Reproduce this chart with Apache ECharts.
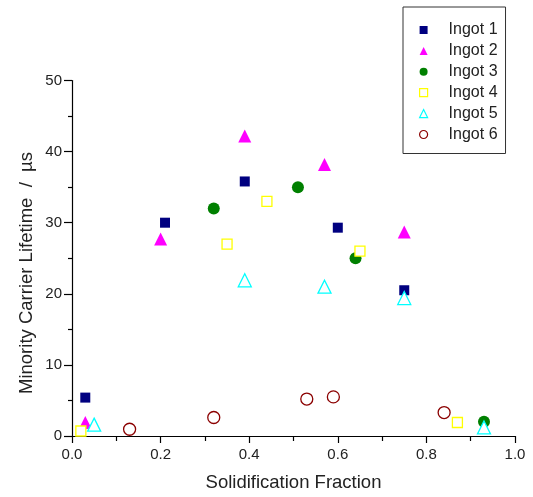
<!DOCTYPE html>
<html>
<head>
<meta charset="utf-8">
<script src="https://cdn.jsdelivr.net/npm/echarts@6/dist/echarts.min.js"></script>
<style>html,body{margin:0;padding:0;background:#fff}#c{width:533px;height:497px}</style>
</head>
<body>
<div id="c"></div>
<script>
var seriesNames = ['Ingot 1','Ingot 2','Ingot 3','Ingot 4','Ingot 5','Ingot 6'];
var ingot1 = [[0.03,5.4],[0.21,30.0],[0.39,35.8],[0.60,29.3],[0.75,20.5]];
var ingot2 = [[0.03,1.9],[0.20,27.7],[0.39,42.2],[0.57,38.2],[0.75,28.7]];
var ingot3 = [[0.32,32.0],[0.51,35.0],[0.64,25.0],[0.93,2.0]];
var ingot4 = [[0.02,0.7],[0.35,27.0],[0.44,33.0],[0.65,26.0],[0.87,1.9]];
var ingot5 = [[0.05,1.6],[0.39,21.9],[0.57,21.0],[0.75,19.4],[0.93,1.2]];
var ingot6 = [[0.13,0.95],[0.32,2.6],[0.53,5.2],[0.59,5.5],[0.84,3.3]];
var xTicks = [0, 0.2, 0.4, 0.6, 0.8, 1.0];
var yTicks = [0, 10, 20, 30, 40, 50];

var FONT = 'Liberation Sans, Arial, sans-serif';
var dataSets = [ingot1, ingot2, ingot3, ingot4, ingot5, ingot6];
var styles = [
  {symbol:'rect', size:10, color:'#000080', empty:false},
  {symbol:'triangle', size:13, color:'#ff00ff', empty:false},
  {symbol:'circle', size:12, color:'#008000', empty:false},
  {symbol:'rect', size:10, color:'#ffff00', empty:true},
  {symbol:'triangle', size:13, color:'#00ffff', empty:true},
  {symbol:'circle', size:12, color:'#8b0000', empty:true}
];
var series = dataSets.map(function(d, i){
  var s = styles[i];
  return {
    name: seriesNames[i],
    type: 'scatter',
    data: d,
    symbol: s.symbol,
    symbolSize: s.size,
    itemStyle: s.empty ? {color:'#ffffff', borderColor:s.color, borderWidth:1.3, opacity:1}
                       : {color:s.color, opacity:1},
    emphasis: {disabled:true}
  };
});
var legendData = seriesNames.map(function(n, i){
  var s = styles[i];
  return {
    name: n,
    icon: s.symbol,
    itemStyle: s.empty ? {color:'#ffffff', borderColor:s.color, borderWidth:1.2}
                       : {color:s.color, borderWidth:0}
  };
});

var chart = echarts.init(document.getElementById('c'), null, {renderer:'canvas'});
chart.setOption({
  animation: false,
  backgroundColor: '#ffffff',
  grid: {left:72, right:18, top:80.5, bottom:57.5, containLabel:false},
  legend: {
    orient: 'vertical',
    left: 403, top: 7,
    data: legendData,
    itemWidth: 8, itemHeight: 8,
    itemGap: 4.9,
    padding: [15, 8, 11, 16],
    borderColor: '#333', borderWidth: 1,
    textStyle: {fontFamily: FONT, fontSize: 16, color:'#222', padding:[0,0,0,16]},
    selectedMode: false
  },
  xAxis: {
    type: 'value', min: 0, max: 1, interval: 0.2,
    name: 'Solidification Fraction', nameLocation: 'middle', nameGap: 37,
    nameTextStyle: {fontFamily: FONT, fontSize: 18.5, color:'#222'},
    axisLine: {show:true, onZero:false, lineStyle:{color:'#000', width:1.2}},
    axisTick: {show:true, inside:false, length:7, lineStyle:{color:'#000', width:1.2}},
    minorTick: {show:true, splitNumber:2, length:5, lineStyle:{color:'#000', width:1.2}},
    splitLine: {show:false},
    axisLabel: {fontFamily: FONT, fontSize: 15, color:'#222', margin: 11.5,
      formatter: function(v){ return xTicks.indexOf(+v.toFixed(1)) >= 0 ? v.toFixed(1) : ''; }}
  },
  yAxis: {
    type: 'value', min: 0, max: 50, interval: 10,
    axisLine: {show:true, onZero:false, lineStyle:{color:'#000', width:1.2}},
    axisTick: {show:true, inside:false, length:8, lineStyle:{color:'#000', width:1.2}},
    minorTick: {show:true, splitNumber:2, length:4, lineStyle:{color:'#000', width:1.2}},
    splitLine: {show:false},
    axisLabel: {fontFamily: FONT, fontSize: 15, color:'#222', margin: 10,
      formatter: function(v){ return yTicks.indexOf(v) >= 0 ? String(v) : ''; }}
  },
  graphic: [{
    type: 'text',
    x: 27, y: 273,
    rotation: Math.PI/2,
    style: {text: 'Minority Carrier Lifetime  /  µs', fontFamily: FONT, fontSize: 18.5, fill:'#222',
      align:'center', verticalAlign:'middle'}
  }],
  series: series
});
</script>
</body>
</html>
